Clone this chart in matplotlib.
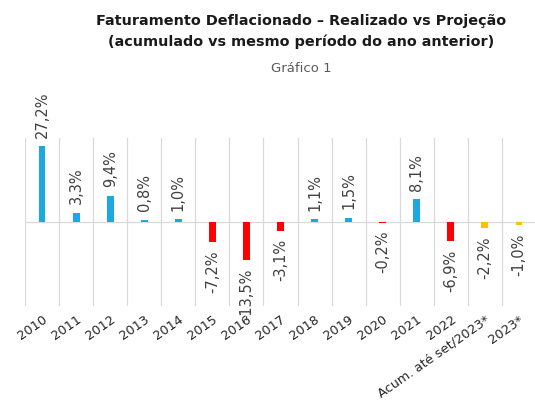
import matplotlib
matplotlib.use("Agg")
import matplotlib.pyplot as plt
import numpy as np

categories = ["2010", "2011", "2012", "2013", "2014", "2015", "2016", "2017", "2018",
              "2019", "2020", "2021", "2022", "Acum. até set/2023*", "2023*"]
values = [27.2, 3.3, 9.4, 0.8, 1.0, -7.2, -13.5, -3.1, 1.1, 1.5, -0.2, 8.1, -6.9, -2.2, -1.0]
labels = ["27,2%", "3,3%", "9,4%", "0,8%", "1,0%", "-7,2%", "-13,5%", "-3,1%", "1,1%",
          "1,5%", "-0,2%", "8,1%", "-6,9%", "-2,2%", "-1,0%"]
projection = [False] * 13 + [True, True]

BLUE = "#1CA9E1"
RED = "#FF0000"
YELLOW = "#FFC000"

plt.rcParams['font.family'] = ['DejaVu Sans']

fig = plt.figure(figsize=(5.35, 4.01), dpi=100)
ax = fig.add_axes([25/535, 95/401, 511/535, 168/401])

x = np.arange(len(categories))
colors = []
for v, p in zip(values, projection):
    if p:
        colors.append(YELLOW)
    elif v >= 0:
        colors.append(BLUE)
    else:
        colors.append(RED)

ax.bar(x, values, width=0.2, color=colors, zorder=3)
ax.set_xlim(-0.5, len(categories) - 0.5)
ax.set_ylim(-30, 30)

for b in np.arange(-0.5, len(categories), 1.0):
    ax.axvline(b, color="#D9D9D9", lw=0.9, zorder=1)
ax.axhline(0, color="#D9D9D9", lw=0.9, zorder=2)

for xi, v, lab in zip(x, values, labels):
    if v >= 0:
        ax.annotate(lab, (xi, v), xytext=(0, 6), textcoords="offset points",
                    rotation=90, ha="center", va="bottom", fontsize=10.5,
                    color="#404040", annotation_clip=False)
    else:
        ax.annotate(lab, (xi, v), xytext=(0, -6), textcoords="offset points",
                    rotation=90, ha="center", va="top", fontsize=10.5,
                    color="#404040", annotation_clip=False)

ax.set_xticks(x)
ax.set_xticklabels(categories, rotation=35, ha="right", rotation_mode="anchor",
                   fontsize=9.3, color="#262626")
ax.tick_params(axis="x", length=0, pad=5)
ax.set_yticks([])
for s in ax.spines.values():
    s.set_visible(False)

fig.text(0.563, 0.947, "Faturamento Deflacionado – Realizado vs Projeção",
         ha="center", va="center", fontsize=10.4, fontweight="bold", color="#1a1a1a")
fig.text(0.563, 0.895, "(acumulado vs mesmo período do ano anterior)",
         ha="center", va="center", fontsize=10.4, fontweight="bold", color="#1a1a1a")
fig.text(0.563, 0.830, "Gráfico 1", ha="center", va="center", fontsize=9.5, color="#595959")

fig.savefig("out.png", dpi=100)
